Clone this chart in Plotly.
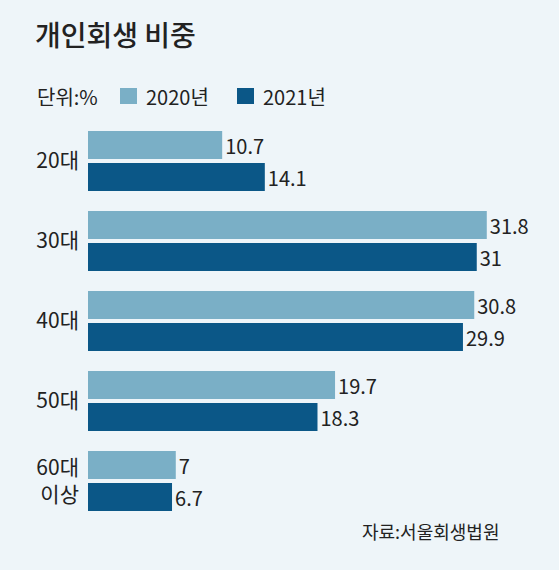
import plotly.graph_objects as go

# Data
age_groups = ['20대', '30대', '40대', '50대', '60대<br>이상']
share_2020 = [10.7, 31.8, 30.8, 19.7, 7]
share_2021 = [14.1, 31, 29.9, 18.3, 6.7]
series_names = ['2020년', '2021년']

# Style
W, H = 559, 570
BG = '#EEF5F9'
LIGHT = '#7AAFC6'
DARK = '#0B5787'
TEXT = '#222222'
FONT = 'Noto Sans CJK KR'

# Plot area in pixels
L, R, T, B = 88, 552, 121, 521


def px(x, y):
    # pixel -> paper coordinates
    return (x - L) / (R - L), (B - y) / (B - T)


fig = go.Figure()
for name, vals, col in [(series_names[0], share_2020, LIGHT),
                        (series_names[1], share_2021, DARK)]:
    fig.add_trace(go.Bar(
        y=age_groups, x=vals, name=name, orientation='h',
        marker=dict(color=col, line=dict(width=0)),
        texttemplate='%{x}', textposition='outside',
        textfont=dict(family=FONT, size=20, color=TEXT),
        constraintext='none', cliponaxis=False, showlegend=False,
    ))

# Hand-made legend row
shapes = []
annotations = []
x0, y0 = px(35, 97)
annotations.append(dict(x=x0, y=y0, xref='paper', yref='paper', text='단위:%',
                        showarrow=False, xanchor='left', yanchor='middle',
                        font=dict(family=FONT, size=20, color=TEXT)))
for sx, tx, col, name in [(120, 144, LIGHT, series_names[0]),
                          (237, 261, DARK, series_names[1])]:
    a, b = px(sx, 104)
    c, d = px(sx + 17, 88)
    shapes.append(dict(type='rect', xref='paper', yref='paper', x0=a, y0=b,
                       x1=c, y1=d, fillcolor=col, line=dict(width=0)))
    tx0, ty0 = px(tx, 97)
    annotations.append(dict(x=tx0, y=ty0, xref='paper', yref='paper', text=name,
                            showarrow=False, xanchor='left', yanchor='middle',
                            font=dict(family=FONT, size=20, color=TEXT)))

# Source note
sx0, sy0 = px(501, 531)
annotations.append(dict(x=sx0, y=sy0, xref='paper', yref='paper',
                        text='자료:서울회생법원', showarrow=False,
                        xanchor='right', yanchor='middle',
                        font=dict(family=FONT, size=18, color=TEXT)))

fig.update_layout(
    width=W, height=H,
    margin=dict(l=L, r=W - R, t=T, b=H - B, pad=0),
    paper_bgcolor=BG, plot_bgcolor=BG,
    barmode='group', bargap=0.2, bargroupgap=0.125,
    title=dict(text='개인회생 비중', x=35 / W, y=1 - 36 / H,
               xanchor='left', yanchor='middle',
               font=dict(family=FONT, size=28, color=TEXT, weight=500)),
    xaxis=dict(range=[0, 37], visible=False, fixedrange=True),
    yaxis=dict(autorange='reversed', showgrid=False, zeroline=False,
               showline=False, ticks='', ticklabelstandoff=8,
               fixedrange=True,
               tickfont=dict(family=FONT, size=21, color=TEXT)),
    shapes=shapes, annotations=annotations,
    font=dict(family=FONT, color=TEXT),
    hovermode=False,
)

# drop the browser's default body margin so the chart fills the window
fig.write_html('out.html', config={'displayModeBar': False},
               post_script="document.body.style.margin='0';")
